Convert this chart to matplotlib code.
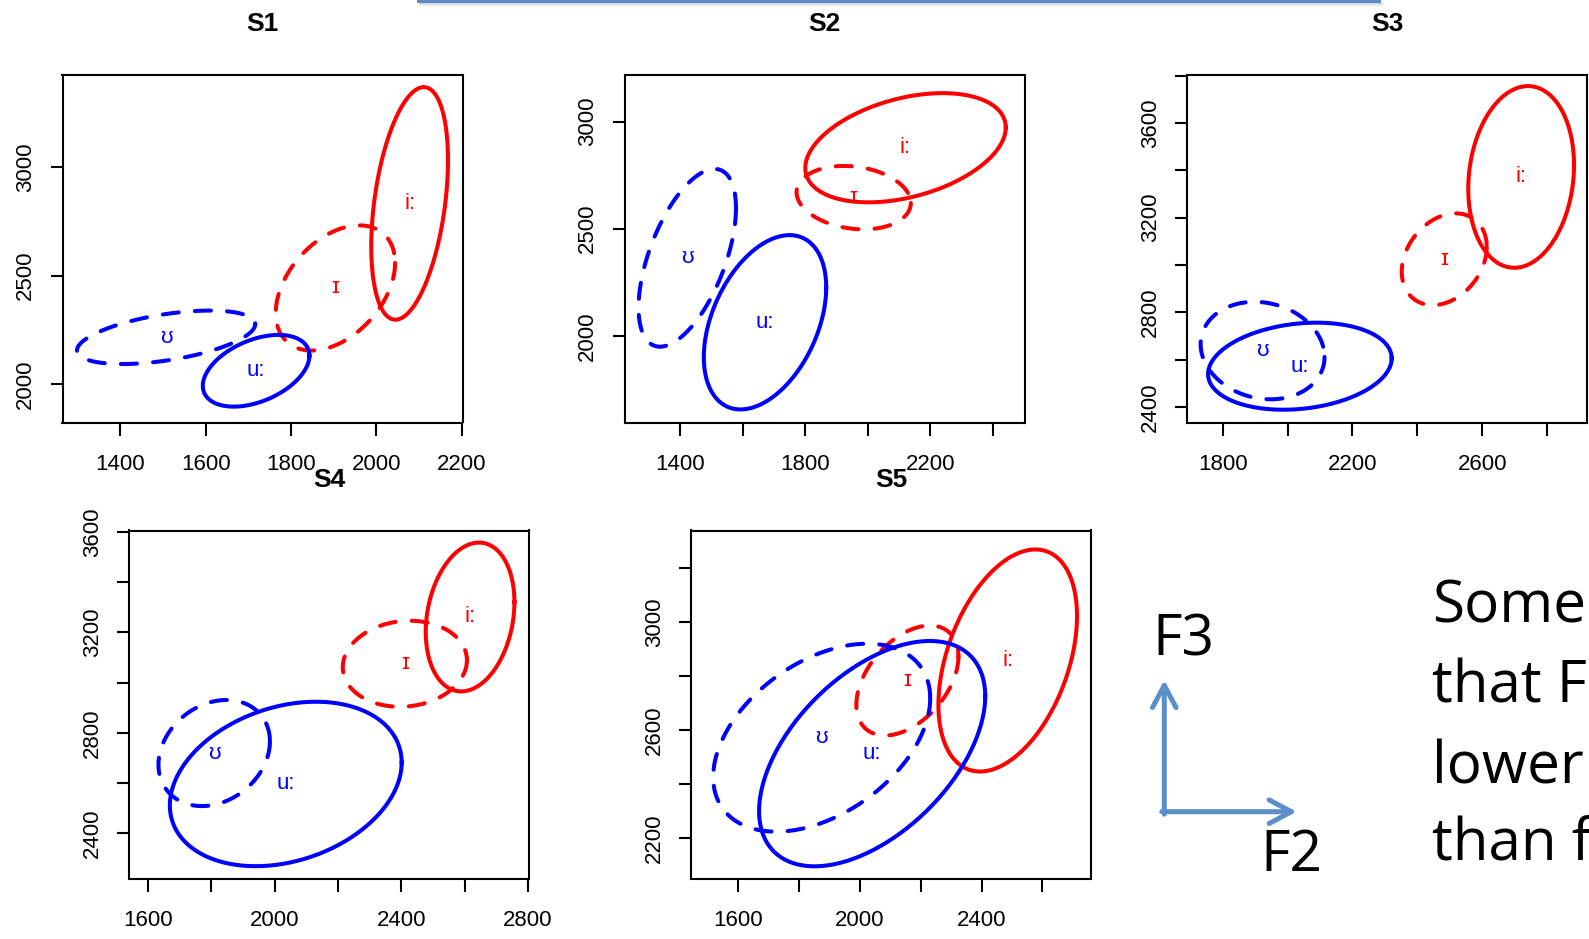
import matplotlib
matplotlib.use('Agg')
from matplotlib import pyplot as plt
import numpy as np

plt.rcParams['font.family'] = ['Liberation Sans', 'DejaVu Sans']

speakers = ['S1', 'S2', 'S3', 'S4', 'S5']
vowels = ['i:', 'ɪ', 'u:', 'ʊ']

# per speaker, per vowel (i:, ɪ, u:, ʊ): mean F2 / F3 in Hz
mean_f2 = [[2078, 1904, 1718, 1507],
           [2121, 1955, 1671, 1422],
           [2720, 2483, 2038, 1923],
           [2617, 2411, 2035, 1809],
           [2486, 2156, 2040, 1874]]
mean_f3 = [[2832, 2443, 2062, 2216],
           [2878, 2645, 2063, 2364],
           [3372, 3024, 2572, 2638],
           [3261, 3075, 2597, 2720],
           [2857, 2783, 2513, 2572]]
# ellipse half-extent along F2 and F3, and F2/F3 correlation
spread_f2 = [[90, 140, 125, 209],
             [321, 183, 196, 156],
             [163, 131, 283, 191],
             [140, 196, 366, 176],
             [228, 168, 372, 357]]
spread_f3 = [[535, 288, 165, 123],
             [255, 148, 407, 415],
             [384, 194, 184, 206],
             [296, 171, 327, 211],
             [410, 203, 416, 347]]
corr = [[0.37, 0.40, 0.42, 0.49],
        [0.37, -0.17, 0.40, 0.56],
        [0.13, 0.27, 0.18, -0.13],
        [0.20, 0.08, 0.26, 0.22],
        [0.40, 0.44, 0.51, 0.42]]

x_limits = [(1264, 2202), (1221, 2502), (1690, 2923), (1540, 2803), (1444, 2760)]
y_limits = [(1824, 3425), (1595, 3220), (2334, 3805), (2221, 3605), (2052, 3337)]
x_ticks = [range(1400, 2201, 200), range(1400, 2401, 200), range(1800, 2801, 200),
           range(1600, 2801, 200), range(1600, 2601, 200)]
x_labelled = [[1400, 1600, 1800, 2000, 2200], [1400, 1800, 2200], [1800, 2200, 2600],
              [1600, 2000, 2400, 2800], [1600, 2000, 2400]]
y_ticks = [[2000, 2500, 3000], [2000, 2500, 3000], range(2400, 3801, 200),
           range(2400, 3601, 200), range(2200, 3201, 200)]
y_labelled = [[2000, 2500, 3000], [2000, 2500, 3000], [2400, 2800, 3200, 3600],
              [2400, 2800, 3200, 3600], [2200, 2600, 3000]]

slide_lines = ['Some', 'that F', 'lower', 'than f']

vowel_colors = ['#ff0000', '#ff0000', '#0000ff', '#0000ff']
vowel_dashed = [False, True, False, True]

W, H = 1589, 939
fig = plt.figure(figsize=(W / 100, H / 100), dpi=100)

# full-figure overlay in pixel units for the slide decorations
deco = fig.add_axes([0, 0, 1, 1])
deco.set_xlim(0, W)
deco.set_ylim(H, 0)
deco.axis('off')
deco.patch.set_alpha(0)

# panel boxes: left, top (pixels), all the same size
panel_pos = [(62.5, 74.5), (624.5, 74.5), (1187, 74.5), (129, 530.5), (691, 530.5)]
panel_w, panel_h = 400, 348

t = np.linspace(0, 2 * np.pi, 300)

for k, name in enumerate(speakers):
    left, top = panel_pos[k]
    ax = fig.add_axes([left / W, 1 - (top + panel_h) / H, panel_w / W, panel_h / H])

    for j, v in enumerate(vowels):
        d = np.arccos(corr[k][j])
        ex = mean_f2[k][j] + spread_f2[k][j] * np.cos(t)
        ey = mean_f3[k][j] + spread_f3[k][j] * np.cos(t + d)
        if vowel_dashed[j]:
            ax.plot(ex, ey, color=vowel_colors[j], lw=2.9, linestyle=(0, (4, 4)),
                    dash_capstyle='round')
        else:
            ax.plot(ex, ey, color=vowel_colors[j], lw=2.9)
        ax.text(mean_f2[k][j], mean_f3[k][j], v, color=vowel_colors[j],
                fontsize=16, ha='center', va='center')

    ax.set_xlim(*x_limits[k])
    ax.set_ylim(*y_limits[k])
    ax.set_xticks(list(x_ticks[k]))
    ax.set_xticklabels([str(x) if x in x_labelled[k] else '' for x in x_ticks[k]])
    ax.set_yticks(list(y_ticks[k]))
    ax.set_yticklabels([str(y) if y in y_labelled[k] else '' for y in y_ticks[k]],
                       rotation=90, va='center')
    ax.tick_params(axis='both', length=9, width=1.5, labelsize=16, color='black')
    ax.tick_params(axis='x', pad=14)
    ax.tick_params(axis='y', pad=10)
    for s in ax.spines.values():
        s.set_linewidth(1.5)
    ax.text(0.5, 1 + 43.6 / panel_h, name, transform=ax.transAxes, ha='center',
            va='baseline', fontsize=19, fontweight='bold')

# blue rule across the top of the slide, with a faint shadow
deco.fill_between([417, 1381], 0, 2.5, color='#5b8ac6', lw=0)
for i, a in enumerate([0.35, 0.22, 0.12, 0.05]):
    deco.fill_between([419, 1383], 2.5 + i, 3.5 + i, color='grey', alpha=a, lw=0)

# F2 / F3 direction key
arrow_color = '#5b8fc9'
corner = (1164.3, 811.7)
deco.annotate('', xy=(1164.3, 680), xytext=(corner[0], corner[1] + 2.5),
              arrowprops=dict(arrowstyle='->,head_length=1.6,head_width=0.85',
                              lw=3.6, color=arrow_color, shrinkA=0, shrinkB=0))
deco.annotate('', xy=(1296.7, 811.7), xytext=(corner[0] - 2.5, corner[1]),
              arrowprops=dict(arrowstyle='->,head_length=1.6,head_width=0.85',
                              lw=3.6, color=arrow_color, shrinkA=0, shrinkB=0))
deco.text(1152, 655, 'F3', fontsize=41, family='Open Sans', va='baseline', ha='left')
deco.text(1260, 870.7, 'F2', fontsize=41, family='Open Sans', va='baseline', ha='left')

baselines = [622.7, 702.7, 783.3, 860.7]
for line, yb in zip(slide_lines, baselines):
    deco.text(1432, yb, line, fontsize=42, family='Open Sans', va='baseline', ha='left')

fig.savefig('out.png', dpi=100)
